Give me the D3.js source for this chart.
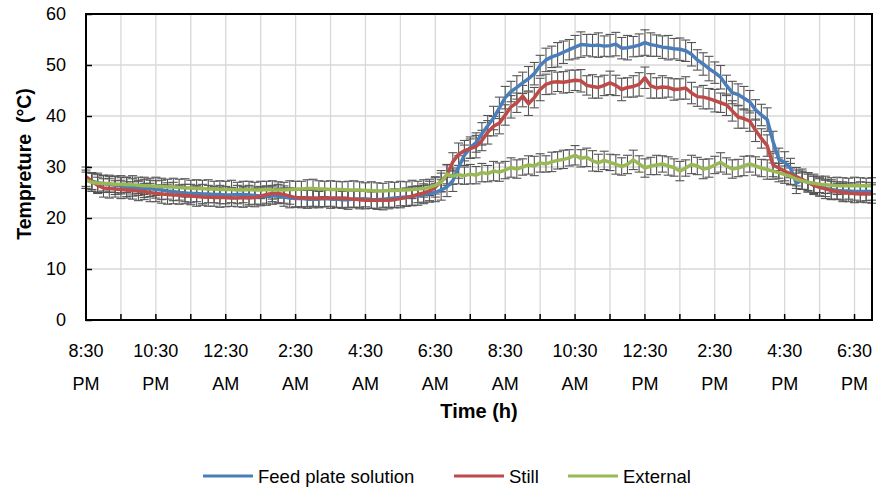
<!DOCTYPE html>
<html>
<head>
<meta charset="utf-8">
<script src="https://cdn.jsdelivr.net/npm/d3@7"></script>
<style>
  body { margin: 0; background: #fff; }
  svg text { font-family: "Liberation Sans", Arial, sans-serif; fill: #000; }
</style>
</head>
<body>
<div id="chart"></div>
<script>
// readings every 10 minutes starting 8:30 PM
let feed = [
  27.6, 27.2, 26.9, 26.7, 26.6, 26.4,
  26.3, 26.1, 26.0, 25.9, 25.8, 25.8,
  25.6, 25.5, 25.3, 25.2, 25.0, 24.9,
  24.8, 24.8, 24.7, 24.7, 24.6, 24.6,
  24.5, 24.5, 24.6, 24.6, 24.5, 24.4,
  24.3, 24.3, 24.4, 24.3, 24.1, 23.9,
  23.8, 23.8, 23.7, 23.7, 23.7, 23.8,
  23.7, 23.7, 23.6, 23.6, 23.7, 23.7,
  23.7, 23.6, 23.6, 23.7, 23.8, 23.9,
  24.0, 24.1, 24.2, 24.4, 24.6, 24.8,
  25.0, 25.5, 26.1, 27.3, 30.0, 32.3,
  33.8, 34.8, 36.5, 38.1, 39.6, 41.6,
  43.6, 44.8, 45.6, 46.5, 47.3, 48.3,
  49.9, 51.0, 51.6, 52.0, 52.5, 53.0,
  53.5, 54.0, 53.9, 53.8, 53.9, 53.7,
  53.8, 54.1, 53.3, 53.4, 53.6, 53.9,
  54.4, 54.0, 53.8, 53.5, 53.4, 53.2,
  53.1, 52.8, 52.1, 51.0, 50.2, 49.3,
  48.5, 47.6, 46.0, 44.6, 44.2, 43.5,
  42.8, 41.2, 40.2, 39.3, 35.0, 31.5,
  30.9, 29.8, 26.8, 27.4, 27.0, 26.5,
  26.1, 25.8, 25.6, 25.4, 25.3, 25.3,
  25.2, 25.2, 25.2, 25.2
];
let still = [
  28.1, 27.2, 26.4, 25.9, 25.8, 25.7,
  25.6, 25.5, 25.4, 25.3, 25.2, 25.0,
  24.8, 24.7, 24.6, 24.5, 24.5, 24.4,
  24.3, 24.2, 24.1, 24.1, 24.0, 24.0,
  24.0, 23.9, 23.9, 24.0, 23.9, 24.0,
  24.3, 24.6, 24.8, 24.8, 24.6, 24.3,
  24.0, 23.9, 23.9, 23.9, 23.8, 23.9,
  23.9, 23.9, 23.8, 23.8, 23.7, 23.6,
  23.5, 23.5, 23.5, 23.5, 23.5, 23.6,
  23.8, 24.0, 24.3, 24.6, 24.9, 25.3,
  26.0, 27.2, 28.4, 31.0, 32.5, 33.2,
  33.6, 34.0, 35.2, 36.8, 38.0, 38.6,
  40.2, 41.8, 42.6, 43.9, 42.4, 43.6,
  45.2, 46.2, 46.6, 46.7, 46.6, 46.8,
  47.0, 46.9, 46.0, 45.8, 45.6, 46.0,
  46.5, 46.0, 45.2, 45.6, 45.8, 46.2,
  47.5, 45.9, 45.5, 45.7, 45.6, 45.2,
  45.3, 45.5, 44.5, 43.8, 43.7, 43.4,
  43.0, 42.6, 42.2, 41.0, 39.8, 39.5,
  39.0, 37.2, 35.6, 34.2, 30.4, 29.8,
  29.2, 28.6, 28.1, 27.6, 27.0, 26.4,
  26.0, 25.7, 25.4, 25.2, 25.0, 24.9,
  24.8, 24.7, 24.7, 24.7
];
let external = [
  27.4, 27.0, 26.8, 26.8, 26.7, 26.6,
  26.6, 26.5, 26.5, 26.4, 26.3, 26.3,
  26.2, 26.2, 26.1, 26.1, 26.0, 25.9,
  25.9, 25.8, 25.8, 25.7, 25.7, 25.6,
  25.6, 25.6, 25.5, 25.5, 25.6, 25.5,
  25.5, 25.6, 25.5, 25.5, 25.5, 25.6,
  25.6, 25.7, 25.8, 25.8, 25.7, 25.7,
  25.6, 25.6, 25.6, 25.5, 25.5, 25.5,
  25.4, 25.4, 25.3, 25.3, 25.4, 25.4,
  25.5, 25.5, 25.6, 25.7, 25.8, 26.0,
  26.4, 27.0, 28.6, 28.2, 28.5, 28.3,
  28.6, 28.4, 28.9, 28.7, 29.2, 29.0,
  29.4, 29.9, 29.6, 30.0, 30.4, 30.2,
  30.8, 30.6, 31.0, 31.3, 31.5, 31.8,
  32.3, 31.7, 31.9, 31.2, 30.8, 31.3,
  30.9, 30.5, 30.1, 30.5, 31.4, 30.6,
  29.8, 30.2, 30.4, 30.6, 30.2, 29.9,
  29.2, 29.8, 30.5, 30.2, 29.6, 29.8,
  30.4, 30.9, 30.2, 29.6, 29.8, 30.2,
  30.6, 30.2, 29.8, 29.5, 29.2, 28.9,
  28.5, 28.2, 27.6, 27.3, 27.0, 26.8,
  26.6, 26.5, 26.4, 26.3, 26.3, 26.3,
  26.3, 26.3, 26.3, 26.3
];

// +/- error bar sizes
let feedErr = [
  1.8,1.6,1.9,1.7,1.5,1.8, 1.6,1.9,1.7,1.5,1.8,1.6, 1.7,1.9,1.6,1.8,1.5,1.7,
  1.8,1.6,1.9,1.7,1.6,1.8, 1.7,1.5,1.8,1.6,1.9,1.7, 1.6,1.8,1.7,1.5,1.8,1.9,
  1.7,1.6,1.8,1.7,1.5,1.6, 1.8,1.7,1.6,1.9,1.7,1.6, 1.5,1.7,1.8,1.6,1.7,1.8,
  1.6,1.8,1.7,1.9,1.8,1.7, 1.8,2.0,1.9,2.1,2.2,2.0, 2.1,1.9,2.2,2.0,2.3,2.1,
  2.2,2.0,2.3,2.1,2.4,2.2, 2.0,2.3,2.1,2.4,2.2,2.0, 2.3,2.5,2.1,2.2,2.4,2.0,
  2.2,2.3,2.1,2.4,2.0,2.2, 2.5,2.3,2.1,2.2,2.4,2.0, 2.2,2.1,2.3,2.0,2.2,2.4,
  2.1,2.3,2.0,2.2,2.1,2.3, 2.2,2.0,2.1,2.3,2.0,2.2, 2.1,1.9,2.0,1.8,1.9,1.7,
  1.8,1.6,1.9,1.7,1.8,1.6, 1.7,1.9,1.8,1.7
];
let stillErr = [
  1.9,1.7,1.6,1.8,1.9,1.6, 1.8,1.6,1.7,1.9,1.6,1.8, 1.6,1.8,1.9,1.7,1.8,1.6,
  1.7,1.9,1.6,1.8,1.7,1.9, 1.8,1.6,1.7,1.9,1.6,1.8, 1.9,1.7,1.6,1.8,1.7,1.6,
  1.8,1.9,1.7,1.6,1.8,1.7, 1.6,1.8,1.9,1.7,1.6,1.8, 1.7,1.6,1.8,1.9,1.7,1.6,
  1.8,1.7,1.9,1.6,1.8,1.9, 1.9,2.1,2.0,1.8,2.2,2.0, 1.9,2.2,2.0,2.3,1.9,2.1,
  2.0,2.2,1.9,2.1,2.3,2.0, 2.2,2.0,2.3,1.9,2.1,2.2, 2.0,2.2,1.9,2.3,2.1,2.0,
  2.3,2.0,2.2,1.9,2.1,2.3, 2.1,2.4,2.0,2.2,1.9,2.1, 2.0,2.2,2.1,1.9,2.3,2.0,
  2.2,1.9,2.1,2.0,2.2,1.9, 2.0,2.2,1.9,2.1,2.3,2.0, 1.9,2.1,1.8,2.0,1.9,1.8,
  1.7,1.9,1.8,1.6,1.8,1.7, 1.8,1.6,1.7,1.8
];
let externalErr = [
  1.6,1.8,1.7,1.5,1.7,1.6, 1.7,1.5,1.8,1.6,1.7,1.5, 1.8,1.6,1.5,1.7,1.6,1.8,
  1.5,1.7,1.6,1.8,1.5,1.7, 1.6,1.8,1.5,1.7,1.6,1.5, 1.7,1.6,1.8,1.6,1.5,1.7,
  1.6,1.5,1.7,1.8,1.6,1.5, 1.7,1.6,1.5,1.7,1.8,1.6, 1.5,1.7,1.6,1.5,1.7,1.6,
  1.7,1.6,1.8,1.5,1.7,1.6, 1.7,1.8,1.9,1.6,1.8,1.7, 1.9,1.7,1.8,1.6,1.9,1.8,
  1.7,1.9,1.8,1.6,1.8,1.9, 1.8,1.6,1.9,1.7,1.8,1.6, 1.9,1.7,1.8,2.0,1.7,1.8,
  1.6,1.9,1.7,1.8,1.9,1.6, 1.8,1.7,1.9,1.6,1.8,1.7, 1.9,1.6,1.8,1.7,1.9,1.8,
  1.7,1.9,1.6,1.8,1.7,1.9, 1.6,1.8,1.7,1.9,1.6,1.8, 1.7,1.6,1.8,1.7,1.6,1.8,
  1.6,1.7,1.5,1.7,1.6,1.5, 1.7,1.6,1.5,1.6
];

let tickLabels = [
  ['8:30', 'PM'], ['10:30', 'PM'], ['12:30', 'AM'], ['2:30', 'AM'],
  ['4:30', 'AM'], ['6:30', 'AM'], ['8:30', 'AM'], ['10:30', 'AM'],
  ['12:30', 'PM'], ['2:30', 'PM'], ['4:30', 'PM'], ['6:30', 'PM']
];
let yTicks = [0, 10, 20, 30, 40, 50, 60];

let seriesNames = ['Feed plate solution', 'Still', 'External'];
let seriesColors = ['#4a7ebb', '#be4b48', '#98b954'];

let margin = { top: 14, right: 4, bottom: 170, left: 86 };
let width = 876 - margin.left - margin.right;
let height = 490 - margin.top - margin.bottom;

let svg = d3.select('#chart')
  .append('svg')
  .attr('width', 876)
  .attr('height', 490);

let g = svg.append('g')
  .attr('transform', 'translate(' + margin.left + ',' + margin.top + ')');

let nPts = feed.length;
let x = d3.scaleLinear().domain([0, nPts - 1]).range([0, width]);
let y = d3.scaleLinear().domain([0, 60]).range([height, 0]);

// hourly ticks = every 6 readings
let hourIdx = d3.range(0, nPts, 6);

// grid
g.append('g')
  .selectAll('line')
  .data(hourIdx.slice(1))
  .enter()
  .append('line')
  .attr('x1', d => x(d)).attr('x2', d => x(d))
  .attr('y1', 0).attr('y2', height)
  .style('stroke', '#d9d9d9')
  .style('stroke-width', 1.3);

g.append('g')
  .selectAll('line')
  .data(yTicks.slice(1, -1))
  .enter()
  .append('line')
  .attr('x1', 0).attr('x2', width)
  .attr('y1', d => y(d)).attr('y2', d => y(d))
  .style('stroke', '#d9d9d9')
  .style('stroke-width', 1.3);

let all = [
  { vals: feed, err: feedErr },
  { vals: still, err: stillErr },
  { vals: external, err: externalErr }
];

// error bars
let eb = g.append('g')
  .style('stroke', '#555')
  .style('stroke-width', 1.1);
all.forEach(s => {
  s.vals.forEach((v, i) => {
    let cx = x(i);
    let y0 = y(v - s.err[i]);
    let y1 = y(v + s.err[i]);
    eb.append('line').attr('x1', cx).attr('x2', cx).attr('y1', y0).attr('y2', y1);
    eb.append('line').attr('x1', cx - 4.5).attr('x2', cx + 4.5).attr('y1', y0).attr('y2', y0);
    eb.append('line').attr('x1', cx - 4.5).attr('x2', cx + 4.5).attr('y1', y1).attr('y2', y1);
  });
});

// lines
let line = d3.line()
  .x((d, i) => x(i))
  .y(d => y(d));

all.forEach((s, k) => {
  g.append('path')
    .datum(s.vals)
    .attr('d', line)
    .style('fill', 'none')
    .style('stroke', seriesColors[k])
    .style('stroke-width', 3.5)
    .style('stroke-linejoin', 'round');
});

// frame
g.append('rect')
  .attr('width', width)
  .attr('height', height)
  .style('fill', 'none')
  .style('stroke', '#000')
  .style('stroke-width', 2);

// y axis
let yAxis = d3.axisLeft(y)
  .tickValues(yTicks)
  .tickSize(-6)
  .tickPadding(20);
let ya = g.append('g').call(yAxis);
ya.select('.domain').remove();
ya.selectAll('line').style('stroke', '#000').style('stroke-width', 1.5);
ya.selectAll('text')
  .style('font-size', '18px')
  .style('font-family', '"Liberation Sans", Arial, sans-serif');

// x ticks
g.append('g')
  .selectAll('line')
  .data(hourIdx.slice(1))
  .enter()
  .append('line')
  .attr('x1', d => x(d)).attr('x2', d => x(d))
  .attr('y1', height).attr('y2', height - 6)
  .style('stroke', '#000')
  .style('stroke-width', 1.5);

let xl = g.append('g')
  .selectAll('text')
  .data(tickLabels)
  .enter()
  .append('text')
  .attr('text-anchor', 'middle')
  .style('font-size', '18px');
xl.append('tspan')
  .attr('x', (d, i) => x(i * 12))
  .attr('y', height + 37)
  .text(d => d[0]);
xl.append('tspan')
  .attr('x', (d, i) => x(i * 12))
  .attr('y', height + 70)
  .text(d => d[1]);

// axis titles
svg.append('text')
  .attr('x', margin.left + width / 2)
  .attr('y', 418)
  .attr('text-anchor', 'middle')
  .style('font-size', '20px')
  .style('font-weight', 'bold')
  .text('Time (h)');

svg.append('text')
  .attr('transform', 'translate(31,' + (margin.top + height / 2 - 3) + ') rotate(-90)')
  .attr('text-anchor', 'middle')
  .style('font-size', '19.5px')
  .style('font-weight', 'bold')
  .style('white-space', 'pre')
  .text('Tempreture  (°C)');

// legend
let legX = [203, 454, 568];
let leg = svg.append('g');
seriesNames.forEach((name, k) => {
  leg.append('line')
    .attr('x1', legX[k]).attr('x2', legX[k] + 50)
    .attr('y1', 476).attr('y2', 476)
    .style('stroke', seriesColors[k])
    .style('stroke-width', 3);
  leg.append('text')
    .attr('x', legX[k] + 55)
    .attr('y', 482.5)
    .style('font-size', '18.5px')
    .text(name);
});
</script>
</body>
</html>
